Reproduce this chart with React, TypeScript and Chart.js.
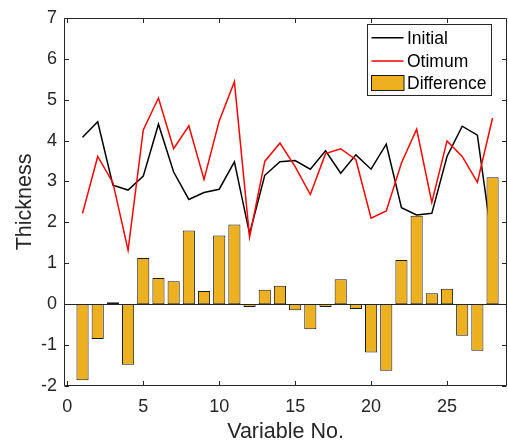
import React, { useEffect, useRef } from "react";
import { Chart, registerables } from "chart.js";

Chart.register(...registerables);

const variables = [1, 2, 3, 4, 5, 6, 7, 8, 9, 10, 11, 12, 13, 14, 15, 16, 17, 18, 19, 20, 21, 22, 23, 24, 25, 26, 27, 28];
const initial = [4.08, 4.46, 2.91, 2.79, 3.13, 4.40, 3.23, 2.56, 2.73, 2.81, 3.48, 1.72, 3.15, 3.48, 3.51, 3.30, 3.75, 3.20, 3.65, 3.30, 3.91, 2.36, 2.18, 2.22, 3.61, 4.35, 4.13, 1.45];
const otimum = [2.22, 3.61, 2.97, 1.32, 4.26, 5.04, 3.80, 4.36, 3.05, 4.48, 5.44, 1.64, 3.49, 3.94, 3.36, 2.68, 3.68, 3.80, 3.53, 2.10, 2.28, 3.45, 4.28, 2.49, 3.99, 3.61, 2.98, 4.55];
const difference = [-1.86, -0.85, 0.05, -1.48, 1.13, 0.64, 0.56, 1.80, 0.32, 1.68, 1.95, -0.07, 0.35, 0.45, -0.15, -0.61, -0.07, 0.61, -0.12, -1.18, -1.63, 1.08, 2.16, 0.27, 0.38, -0.77, -1.14, 3.10];
const xTicks = [0, 5, 10, 15, 20, 25];
const yTicks = [-2, -1, 0, 1, 2, 3, 4, 5, 6, 7];
const xTickLabels = ["0", "5", "10", "15", "20", "25"];
const yTickLabels = ["-2", "-1", "0", "1", "2", "3", "4", "5", "6", "7"];
const legendLabels = ["Initial", "Otimum", "Difference"];

const X_MIN = -0.22;
const X_MAX = 28.95;
const FONT = '"Liberation Sans", Arial, Helvetica, sans-serif';
const AXIS_COLOR = "#262626";
const BAR_COLOR = "#EDB120";

const framePlugin = {
  id: "matlabFrame",
  afterDatasetsDraw(chart: any) {
    const { ctx, chartArea, scales } = chart;
    const { left, right, top, bottom } = chartArea;
    const xs = scales.x;
    const ys = scales.y;
    ctx.save();
    ctx.strokeStyle = AXIS_COLOR;
    ctx.lineWidth = 1;
    const y0 = Math.round(ys.getPixelForValue(0)) + 0.5;
    ctx.beginPath();
    ctx.moveTo(left, y0);
    ctx.lineTo(right, y0);
    ctx.stroke();
    const l = Math.round(left) + 0.5;
    const r = Math.round(right) - 0.5;
    const t = Math.round(top) + 0.5;
    const b = Math.round(bottom) - 0.5;
    ctx.beginPath();
    ctx.moveTo(l, t);
    ctx.lineTo(r, t);
    ctx.lineTo(r, b);
    ctx.lineTo(l, b);
    ctx.closePath();
    ctx.stroke();
    const tl = 4.5;
    ctx.beginPath();
    xTicks.forEach((v) => {
      const px = Math.round(xs.getPixelForValue(v)) + 0.5;
      ctx.moveTo(px, b);
      ctx.lineTo(px, b - tl);
      ctx.moveTo(px, t);
      ctx.lineTo(px, t + tl);
    });
    yTicks.forEach((v) => {
      const py = Math.round(ys.getPixelForValue(v)) + 0.5;
      ctx.moveTo(l, py);
      ctx.lineTo(l + tl, py);
      ctx.moveTo(r, py);
      ctx.lineTo(r - tl, py);
    });
    ctx.stroke();
    ctx.restore();
  },
  afterDraw(chart: any) {
    const { ctx } = chart;
    ctx.save();
    const bx = 367.5, by = 24.5, bw = 124, bh = 71;
    ctx.fillStyle = "#ffffff";
    ctx.fillRect(bx, by, bw, bh);
    ctx.strokeStyle = AXIS_COLOR;
    ctx.lineWidth = 1;
    ctx.strokeRect(bx, by, bw, bh);
    const rows = [37.7, 61, 83.3];
    const sampleL = 371.5, sampleR = 403.5;
    ctx.strokeStyle = "#000000";
    ctx.lineWidth = 1.5;
    ctx.beginPath();
    ctx.moveTo(sampleL, rows[0]);
    ctx.lineTo(sampleR, rows[0]);
    ctx.stroke();
    ctx.strokeStyle = "#FF0000";
    ctx.beginPath();
    ctx.moveTo(sampleL, rows[1]);
    ctx.lineTo(sampleR, rows[1]);
    ctx.stroke();
    ctx.fillStyle = BAR_COLOR;
    ctx.fillRect(371.5, 75.5, 32.5, 15);
    ctx.strokeStyle = "#1a1a1a";
    ctx.lineWidth = 1;
    ctx.strokeRect(371.5, 75.5, 32.5, 15);
    ctx.fillStyle = "#000000";
    ctx.font = `17.5px ${FONT}`;
    ctx.textBaseline = "middle";
    ctx.textAlign = "left";
    legendLabels.forEach((txt, i) => {
      ctx.fillText(txt, 407, rows[i] + 1);
    });
    ctx.restore();
  },
};

export default function App() {
  const canvasRef = useRef<HTMLCanvasElement | null>(null);

  useEffect(() => {
    const canvas = canvasRef.current;
    if (!canvas) return;
    const chart = new Chart(canvas, {
      type: "bar",
      data: {
        datasets: [
          {
            type: "line",
            label: legendLabels[0],
            data: variables.map((v, i) => ({ x: v, y: initial[i] })),
            borderColor: "#000000",
            backgroundColor: "#000000",
            borderWidth: 1.5,
            pointRadius: 0,
            tension: 0,
            order: 2,
          } as any,
          {
            type: "line",
            label: legendLabels[1],
            data: variables.map((v, i) => ({ x: v, y: otimum[i] })),
            borderColor: "#FF0000",
            backgroundColor: "#FF0000",
            borderWidth: 1.5,
            pointRadius: 0,
            tension: 0,
            order: 1,
          } as any,
          {
            type: "bar",
            label: legendLabels[2],
            data: variables.map((v, i) => ({ x: v, y: difference[i] })),
            backgroundColor: BAR_COLOR,
            borderColor: "#1a1a1a",
            borderWidth: 1,
            borderSkipped: false,
            barPercentage: 0.8,
            categoryPercentage: 1.0,
            order: 0,
          } as any,
        ],
      },
      options: {
        animation: false,
        responsive: false,
        maintainAspectRatio: false,
        events: [],
        layout: { padding: { left: 0, top: 13, right: 1, bottom: 0 } },
        plugins: {
          legend: { display: false },
          tooltip: { enabled: false },
          title: { display: false },
        },
        scales: {
          x: {
            type: "linear",
            min: X_MIN,
            max: X_MAX,
            offset: false,
            grid: { display: false, drawTicks: false },
            border: { display: false },
            afterBuildTicks: (scale: any) => {
              scale.ticks = xTicks.map((v) => ({ value: v }));
            },
            afterFit: (scale: any) => {
              scale.height = 57;
            },
            ticks: {
              autoSkip: false,
              maxRotation: 0,
              padding: 10,
              color: AXIS_COLOR,
              font: { family: FONT, size: 18 },
              callback: (v: any, i: number) => xTickLabels[i] ?? String(v),
            },
            title: {
              display: true,
              text: "Variable No.",
              color: AXIS_COLOR,
              font: { family: FONT, size: 21.5, lineHeight: 1 },
              padding: { top: 0, bottom: 0 },
            },
          },
          y: {
            type: "linear",
            min: -2,
            max: 7,
            grid: { display: false, drawTicks: false },
            border: { display: false },
            afterBuildTicks: (scale: any) => {
              scale.ticks = yTicks.map((v) => ({ value: v }));
            },
            afterFit: (scale: any) => {
              scale.width = 64;
            },
            ticks: {
              autoSkip: false,
              padding: 7,
              color: AXIS_COLOR,
              font: { family: FONT, size: 18 },
              callback: (v: any, i: number) => yTickLabels[i] ?? String(v),
            },
            title: {
              display: true,
              text: "Thickness",
              color: AXIS_COLOR,
              font: { family: FONT, size: 21.5, lineHeight: 1.2 },
              padding: { top: 12.6, bottom: 0 },
            },
          },
        },
      },
      plugins: [framePlugin],
    });
    return () => {
      chart.destroy();
    };
  }, []);

  return (
    <div style={{ position: "absolute", left: 0, top: 0, width: 508, height: 443, background: "#ffffff" }}>
      <canvas ref={canvasRef} width={508} height={443} style={{ display: "block", width: 508, height: 443 }} />
    </div>
  );
}
